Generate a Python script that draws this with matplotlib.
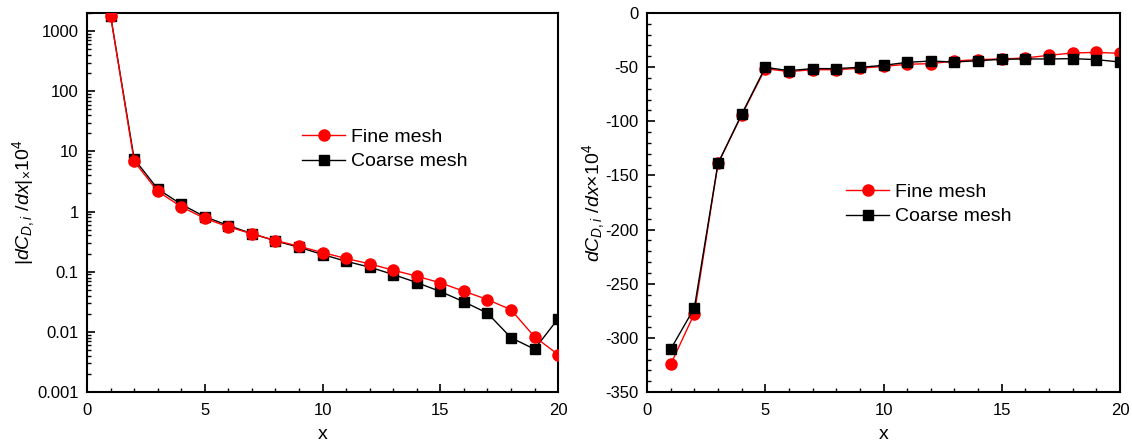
import matplotlib
matplotlib.use('Agg')
import matplotlib.pyplot as plt
from matplotlib.ticker import MultipleLocator, FuncFormatter, LogLocator
import numpy as np

plt.rcParams['font.family'] = ['Liberation Sans', 'DejaVu Sans']
plt.rcParams['mathtext.fontset'] = 'custom'
plt.rcParams['mathtext.rm'] = 'Liberation Sans'
plt.rcParams['mathtext.it'] = 'Liberation Sans:italic'
plt.rcParams['axes.unicode_minus'] = False

x = list(range(1, 21))

# left panel: |dC_D,i/dx| x 1e4 (log scale)
fine_abs = [1800, 6.8, 2.17, 1.2, 0.77, 0.557, 0.426, 0.33, 0.265, 0.208,
            0.166, 0.135, 0.106, 0.0843, 0.0653, 0.0474, 0.0345, 0.0233, 0.0083, 0.0042]
coarse_abs = [1800, 7.5, 2.37, 1.32, 0.82, 0.585, 0.43, 0.325, 0.255, 0.193,
              0.149, 0.119, 0.0898, 0.066, 0.0469, 0.0316, 0.0205, 0.008, 0.00516, 0.0165]

# right panel: dC_D,i/dx x 1e4
fine_val = [-324.5, -277.6, -139, -94.3, -51.4, -54.2, -52.4, -52.4, -51.1, -49.3,
            -47.4, -46.8, -44.4, -43.1, -42.5, -41.6, -39.1, -37.0, -36.4, -37.3]
coarse_val = [-310.4, -272.4, -139, -93.7, -50.2, -53.3, -51.4, -51.4, -50.2, -48.4,
              -45.6, -44.4, -45.3, -44.1, -42.8, -42.5, -42.5, -42.2, -43.1, -45.3]

fig = plt.figure(figsize=(11.32, 4.46), dpi=100)
ax1 = fig.add_axes([0.0769, 0.121, 0.4161, 0.850])
ax2 = fig.add_axes([0.5716, 0.121, 0.4178, 0.850])

red = '#ff0000'

# left
lc, = ax1.plot(x, coarse_abs, '-s', color='black', lw=1, ms=7, label='Coarse mesh', zorder=2)
lf, = ax1.plot(x, fine_abs, '-o', color=red, lw=1, ms=8, label='Fine mesh', zorder=3)
ax1.set_yscale('log')
ax1.set_ylim(0.001, 2000)
ax1.set_xlim(0, 20)
ax1.yaxis.set_major_locator(LogLocator(base=10, numticks=10))
ax1.yaxis.set_minor_locator(LogLocator(base=10, subs=np.arange(2, 10), numticks=20))
ax1.yaxis.set_major_formatter(FuncFormatter(lambda v, p: '%g' % v))
ax1.set_ylabel(r'$|dC_{D,i}\ /dx|_{\times}\mathit{10}^{\mathit{4}}$', fontsize=14, labelpad=0)
ax1.legend([lf, lc], ['Fine mesh', 'Coarse mesh'], loc='center left',
           bbox_to_anchor=(0.42, 0.64), frameon=False, fontsize=14,
           handlelength=2.2, handletextpad=0.3, labelspacing=0.35)

# right
rf, = ax2.plot(x, fine_val, '-o', color=red, lw=1, ms=8, label='Fine mesh', zorder=2)
rc, = ax2.plot(x, coarse_val, '-s', color='black', lw=1, ms=7, label='Coarse mesh', zorder=3)
ax2.set_xlim(0, 20)
ax2.set_ylim(-350, 0)
ax2.yaxis.set_major_locator(MultipleLocator(50))
ax2.yaxis.set_minor_locator(MultipleLocator(10))
ax2.set_ylabel(r'$dC_{D,i}\ /dx{\times}\mathit{10}^{\mathit{4}}$', fontsize=14, labelpad=-1)
ax2.legend([rf, rc], ['Fine mesh', 'Coarse mesh'], loc='center left',
           bbox_to_anchor=(0.384, 0.495), frameon=False, fontsize=14,
           handlelength=2.2, handletextpad=0.3, labelspacing=0.35)

for ax in (ax1, ax2):
    ax.xaxis.set_major_locator(MultipleLocator(5))
    ax.xaxis.set_minor_locator(MultipleLocator(1))
    ax.set_xlabel('x', fontsize=14, labelpad=6)
    ax.tick_params(which='both', direction='in', top=False, right=False, labelsize=12)
    ax.tick_params(axis='x', which='major', pad=8)
    ax.tick_params(axis='y', which='major', pad=6)
    ax.tick_params(which='major', length=6, width=1.2)
    ax.tick_params(which='minor', length=3, width=1)
    for s in ax.spines.values():
        s.set_linewidth(1.5)

fig.savefig('out.png', dpi=100)
